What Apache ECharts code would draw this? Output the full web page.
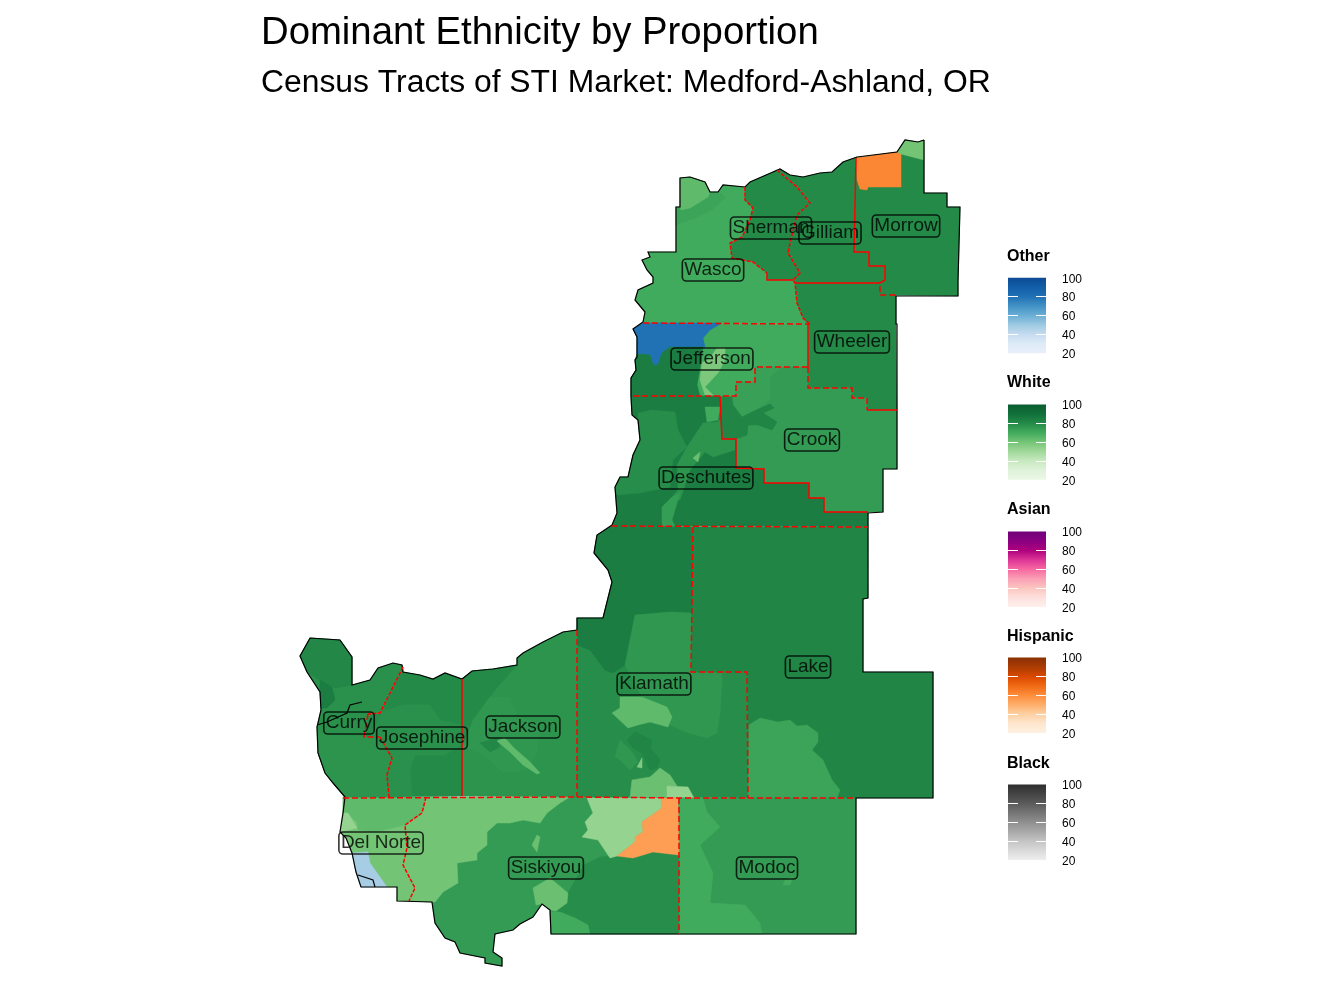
<!DOCTYPE html>
<html><head><meta charset="utf-8">
<style>html,body{margin:0;padding:0;background:#fff}#c{width:1344px;height:1008px}</style>
<script src="https://cdn.jsdelivr.net/npm/echarts@6/dist/echarts.min.js"></script>
</head><body><div id="c"></div>
<script>
const titleText = "Dominant Ethnicity by Proportion";
const subtitleText = "Census Tracts of STI Market: Medford-Ashland, OR";
const legendNames = ["Other","White","Asian","Hispanic","Black"];
const legendTicks = [20,40,60,80,100];

// Share of the dominant group per tract
const whiteShare = {
  Wasco:70, WascoN2:72, WascoN1:64, Sherman:80, Gilliam:80, Morrow:80, MorrowTop:60, Wheeler:80,
  Jefferson:70, JeffersonSW:85, JeffersonMid:58,
  Crook:75, CrookNW:73, CrookDark:82,
  Deschutes:85, DeschutesW:79, DeschutesC:77, DeschutesTop:70, DeschutesS:74, DeschutesSpot:62,
  Klamath:79, KlamathN:85, KlamathNE:76, KlamathLight:64, KlamathDark:82, KlamathW:76, KlamathS:62, KlamathSE:53, KlamathSpot:57,
  Lake:82, LakeS:72,
  Modoc:75, ModocW:70, ModocSpot:70,
  Siskiyou:75, SiskiyouNW:60, SiskiyouSE:79, SiskiyouSW:70, SiskiyouMid:62, SiskiyouSpot:62, SiskiyouNE:53,
  DelNorte:60, DelNorteN:64, DelNorteCoast:53,
  Jackson:77, JacksonW:80, JacksonC:76, JacksonDark:81, JacksonStreak:64,
  Josephine:80, JosephineN:78,
  Curry:78, CurryN:81, CurryDark:85, CurryS:77
};
const hispanicShare = { MorrowOrange:62, SiskiyouOrange:55 };
const otherShare = { JeffersonBlue:80, DelNorteBlue:48 };

// Tract outlines, in paint order
const tractShapes = {
  Wasco:[[745,187],[745,200],[753,208],[750,220],[742,237],[730,243],[732,258],[753,262],[767,273],[767,280],[793,280],[795,283],[797,303],[803,318],[810,324],[643,323],[633,329],[643,322],[645,312],[635,300],[638,290],[653,283],[653,277],[647,270],[642,260],[650,257],[648,252],[676,252],[676,207],[680,207],[680,178],[690,177],[705,182],[710,192],[718,192],[723,185]],
  WascoN2:[[681,210],[708,197],[710,192],[718,192],[726,197],[712,210],[695,218],[676,225],[676,207],[680,207]],
  WascoN1:[[680,178],[690,177],[705,182],[710,192],[708,197],[690,208],[681,210],[680,207]],
  Sherman:[[745,187],[750,182],[773,172],[777,170],[797,187],[810,203],[797,215],[790,243],[788,253],[800,273],[793,280],[767,280],[767,273],[753,262],[732,258],[730,243],[742,237],[750,220],[753,208],[745,200]],
  Gilliam:[[777,170],[780,169],[790,175],[803,177],[820,173],[832,172],[843,162],[857,157],[855,207],[854,252],[869,252],[869,266],[885,266],[885,280],[880,283],[795,283],[793,280],[800,273],[788,253],[790,243],[797,215],[810,203],[797,187]],
  Morrow:[[856,158],[857,157],[897,152],[905,140],[918,142],[924,140],[924,193],[947,193],[947,207],[960,207],[958,281],[958,296],[880,295],[880,283],[885,280],[885,266],[869,266],[869,252],[854,252],[855,207]],
  MorrowOrange:[[856,158],[857,157],[897,152],[901,154],[901,187],[868,187],[867,190],[860,189],[857,180]],
  MorrowTop:[[897,152],[905,140],[918,142],[924,140],[924,160],[901,154]],
  Wheeler:[[795,283],[880,283],[880,295],[896,295],[896,324],[897,324],[897,410],[867,410],[867,398],[852,398],[852,388],[808,388],[808,324],[803,318],[797,303]],
  Jefferson:[[643,323],[808,324],[808,367],[755,367],[755,382],[736,382],[736,396],[631,396],[631,378],[636,370],[635,360],[637,357],[637,337],[633,329]],
  JeffersonBlue:[[643,323],[722,323],[710,330],[703,338],[705,347],[670,347],[662,353],[658,365],[653,365],[650,355],[637,354],[637,337],[633,329]],
  JeffersonSW:[[637,354],[650,355],[653,365],[658,365],[662,353],[670,347],[703,347],[700,368],[697,385],[700,396],[631,396],[631,378],[636,370],[635,360]],
  JeffersonMid:[[717,348],[725,348],[725,360],[718,373],[705,387],[713,395],[705,395],[700,380],[702,363],[710,358]],
  Crook:[[755,367],[808,367],[808,388],[852,388],[852,398],[867,398],[867,410],[897,410],[897,469],[883,469],[883,512],[824,512],[824,498],[809,498],[809,483],[764,483],[764,469],[736,468],[736,439],[722,439],[720,396],[736,396],[736,382],[755,382]],
  CrookNW:[[736,382],[755,382],[755,367],[782,367],[770,377],[770,400],[752,412],[742,417],[733,405],[732,397],[736,396]],
  CrookDark:[[732,397],[733,405],[742,417],[752,412],[770,404],[774,408],[763,413],[777,422],[772,430],[758,425],[748,425],[747,435],[736,439],[722,439],[720,397]],
  Deschutes:[[631,396],[720,396],[722,439],[736,439],[736,468],[764,469],[764,483],[809,483],[809,498],[824,498],[824,512],[868,512],[868,527],[612,526],[617,513],[615,487],[620,477],[628,477],[633,455],[640,440],[638,420],[632,415]],
  DeschutesW:[[638,413],[652,410],[675,412],[678,430],[687,447],[673,460],[670,487],[640,493],[617,495],[615,487],[620,477],[628,477],[633,455],[640,440],[638,420]],
  DeschutesC:[[687,447],[703,423],[717,422],[720,420],[722,439],[735,440],[735,450],[713,457],[705,452],[690,470],[680,500],[672,497],[678,490],[677,465]],
  DeschutesTop:[[705,407],[720,407],[718,420],[707,422]],
  DeschutesS:[[662,507],[672,497],[680,493],[672,520],[675,526],[662,526]],
  DeschutesSpot:[[693,458],[700,452],[698,462]],
  Klamath:[[612,526],[693,527],[692,600],[691,672],[747,672],[748,798],[577,797],[577,618],[603,618],[612,582],[608,570],[594,553],[597,535]],
  KlamathN:[[612,526],[693,527],[692,613],[670,612],[635,615],[630,640],[625,665],[613,673],[605,670],[590,650],[577,645],[577,618],[603,618],[612,582],[608,570],[594,553],[597,535]],
  KlamathNE:[[635,615],[670,612],[692,613],[691,672],[722,672],[722,683],[720,713],[717,733],[707,738],[688,733],[670,725],[667,707],[642,697],[625,665],[630,640]],
  KlamathLight:[[620,697],[642,697],[667,707],[672,717],[668,727],[650,722],[638,725],[628,728],[612,713],[620,708]],
  KlamathW:[[615,757],[620,740],[627,747],[633,753],[638,762],[630,770],[620,760]],
  KlamathDark:[[627,740],[635,732],[652,740],[650,748],[660,760],[657,768],[650,770],[642,753],[633,748]],
  KlamathS:[[630,797],[632,780],[650,777],[660,768],[670,775],[677,786],[667,786],[667,797]],
  KlamathSE:[[667,786],[688,787],[694,798],[667,798]],
  KlamathSpot:[[637,767],[642,758],[642,768]],
  Lake:[[692,527],[868,527],[868,598],[863,599],[863,643],[863,672],[933,672],[933,798],[748,798],[747,672],[691,672],[692,600]],
  LakeS:[[749,725],[760,718],[778,722],[790,720],[797,726],[807,725],[818,733],[818,742],[812,750],[823,760],[832,780],[840,790],[837,798],[748,798]],
  Modoc:[[679,798],[856,798],[856,934],[679,934]],
  ModocW:[[679,798],[703,798],[707,812],[720,827],[700,845],[713,873],[710,903],[745,905],[760,923],[762,934],[679,934]],
  ModocSpot:[[785,880],[793,877],[790,885],[783,885]],
  Siskiyou:[[426,797],[577,797],[679,798],[679,934],[551,934],[550,910],[542,904],[533,917],[520,924],[513,930],[495,934],[493,952],[502,958],[502,966],[485,963],[485,958],[460,953],[455,942],[445,938],[435,923],[432,902],[409,901],[415,888],[403,865],[407,848],[405,825],[422,813]],
  SiskiyouNW:[[426,797],[570,797],[560,803],[547,813],[540,823],[523,820],[510,823],[497,823],[487,832],[487,845],[477,853],[477,860],[457,863],[458,883],[443,892],[435,902],[432,902],[409,901],[415,888],[403,865],[407,848],[405,825],[422,813]],
  SiskiyouSE:[[615,856],[633,858],[653,852],[679,855],[679,934],[590,934],[588,925],[575,918],[560,912],[556,911],[567,903],[568,893],[584,865],[600,857]],
  SiskiyouSW:[[551,934],[550,912],[560,912],[575,918],[588,925],[590,934]],
  SiskiyouMid:[[533,888],[550,878],[568,893],[567,903],[556,911],[550,910],[542,904],[536,905]],
  SiskiyouSpot:[[537,835],[540,837],[537,852],[532,845]],
  SiskiyouNE:[[587,798],[661,798],[662,808],[642,822],[643,832],[635,837],[635,842],[617,856],[610,858],[598,840],[582,837],[588,830],[585,822],[593,813]],
  SiskiyouOrange:[[661,798],[678,798],[679,855],[653,852],[633,858],[617,856],[635,842],[635,837],[643,832],[642,822],[662,808]],
  DelNorte:[[343,797],[426,797],[422,813],[405,825],[407,848],[403,865],[415,888],[409,901],[397,901],[397,887],[361,887],[356,872],[352,853],[346,838],[340,832],[343,813]],
  DelNorteN:[[343,797],[426,797],[422,813],[405,825],[375,832],[358,830],[357,822],[345,812],[343,813]],
  DelNorteCoast:[[344,813],[348,813],[357,828],[340,832]],
  DelNorteBlue:[[352,853],[368,852],[370,863],[387,887],[361,887],[356,872]],
  Jackson:[[462,679],[472,671],[493,669],[517,665],[517,658],[523,653],[543,642],[563,632],[577,630],[577,797],[462,796]],
  JacksonW:[[462,679],[472,671],[493,669],[517,665],[495,690],[490,697],[473,720],[463,747],[462,760]],
  JacksonC:[[473,720],[490,697],[510,697],[517,717],[540,723],[537,753],[527,770],[503,773],[490,760],[480,753],[463,747]],
  JacksonDark:[[480,743],[497,738],[500,747],[490,752]],
  JacksonStreak:[[497,741],[505,738],[514,748],[530,762],[540,773],[537,774],[523,765],[510,752]],
  Josephine:[[403,667],[403,672],[420,675],[433,679],[445,673],[462,679],[462,796],[389,797],[387,775],[392,758],[380,737],[364,737],[368,714],[380,713],[390,693]],
  JosephineN:[[382,712],[403,705],[430,705],[440,720],[462,725],[462,745],[445,755],[415,755],[410,770],[412,796],[389,797],[387,775],[392,758],[380,737],[370,737]],
  Curry:[[403,667],[402,665],[393,663],[378,668],[370,680],[352,685],[352,657],[340,640],[310,638],[300,656],[307,672],[320,692],[321,710],[317,727],[318,753],[325,773],[333,783],[345,797],[389,797],[387,775],[392,758],[380,737],[364,737],[368,714],[380,713],[390,693]],
  CurryN:[[300,656],[310,638],[340,640],[352,657],[352,685],[335,688],[320,680],[307,672]],
  CurryDark:[[320,680],[332,687],[335,700],[327,708],[321,708],[320,692]],
  CurryS:[[318,733],[365,737],[380,737],[392,758],[387,775],[389,797],[345,797],[333,783],[325,773],[318,753]]
};

const outerBorder = [[924,140],[918,142],[905,140],[897,152],[857,157],[843,162],[832,172],[820,173],[803,177],[790,175],[780,169],[773,172],[750,182],[745,187],[723,185],[718,192],[710,192],[705,182],[690,177],[680,178],[680,207],[676,207],[676,252],[648,252],[650,257],[642,260],[647,270],[653,277],[653,283],[638,290],[635,300],[645,312],[643,322],[633,329],[637,337],[637,357],[635,360],[636,370],[631,378],[631,397],[632,415],[638,420],[640,440],[633,455],[628,477],[620,477],[615,487],[617,513],[612,525],[597,535],[594,553],[608,570],[612,582],[603,618],[577,618],[577,630],[563,632],[543,642],[523,653],[517,658],[517,665],[493,669],[472,671],[462,679],[445,673],[433,679],[420,675],[403,672],[402,665],[393,663],[378,668],[370,680],[352,685],[352,657],[340,640],[310,638],[300,656],[307,672],[320,692],[321,710],[317,727],[318,753],[325,773],[333,783],[345,797],[343,813],[340,832],[346,838],[352,853],[356,872],[361,887],[397,887],[397,901],[432,902],[435,923],[445,938],[455,942],[460,953],[485,958],[485,963],[502,966],[502,958],[493,952],[495,934],[513,930],[520,924],[533,917],[542,904],[550,910],[551,934],[856,934],[856,798],[933,798],[933,672],[863,672],[863,599],[868,598],[868,513],[883,512],[883,469],[897,469],[897,324],[896,324],[896,296],[958,296],[958,281],[960,207],[947,207],[947,193],[924,193],[924,140]];
const innerBlack = [
  [[317,725],[327,722],[347,713],[350,705],[362,702]],
  [[358,875],[373,880],[375,887]]
];
const solidRed = [
  [[767,273],[767,280],[793,280]],
  [[856,158],[855,207],[854,252],[869,252],[869,266],[885,266],[885,280]],
  [[795,283],[880,283]],
  [[808,324],[808,367]],
  [[867,410],[897,410]],
  [[720,396],[722,439],[736,439],[736,468],[764,469],[764,483],[809,483],[809,498],[824,498],[824,512],[868,512]],
  [[462,679],[462,796]]
];
const dottedRed = [
  [[745,187],[745,200],[753,208],[750,220],[742,237],[730,243],[732,258],[753,262],[767,273]],
  [[777,170],[797,187],[810,203],[797,215],[790,243],[788,253],[800,273],[793,280],[795,283],[797,303],[803,318],[810,324]],
  [[403,667],[390,693],[380,713],[368,714]],
  [[380,737],[392,758],[387,775],[389,797]],
  [[426,797],[422,813],[405,825],[407,848],[403,865],[415,888],[409,901]]
];
const dashedRed = [
  [[643,323],[810,324]],
  [[808,367],[755,367],[755,382],[736,382],[736,396],[631,396]],
  [[808,367],[808,388],[852,388],[852,398],[867,398],[867,410]],
  [[885,280],[880,283],[880,295],[896,295]],
  [[612,526],[868,527]],
  [[693,527],[692,600],[691,672],[747,672],[748,798]],
  [[577,630],[577,797]],
  [[343,798],[577,797],[678,798],[856,798]],
  [[679,798],[679,934]],
  [[368,714],[364,737],[380,737]]
];
const countyNames = ["Sherman","Gilliam","Morrow","Wasco","Jefferson","Wheeler","Crook","Deschutes","Lake","Klamath","Curry","Josephine","Jackson","Del Norte","Siskiyou","Modoc"];
const countyX = [771,830,906,713,712,852,812,706,808,654,349,422,523,381,546,767];
const countyY = [228,233,226,270,359,342,440,478,667,684,723,738,727,843,868,868];

// Colour ramps (values 20, 30 ... 100)
const ramps = {
  Other:["#e8eff9","#deebf7","#c6dbef","#9ecae1","#6baed6","#4292c6","#2171b5","#125ea8","#0d4a94"],
  White:["#eaf7e6","#dff2da","#c7e9c0","#a1d99b","#74c476","#41ab5d","#248a48","#11703a","#0a5c2f"],
  Asian:["#fff0ec","#fde0dd","#fcc5c0","#fa9fb5","#f768a1","#dd3497","#ae017e","#8a0180","#6f0078"],
  Hispanic:["#fff0e2","#fee6ce","#fdd0a2","#fdae6b","#fd8d3c","#f16913","#d94801","#ab3c04","#8a3003"],
  Black:["#eeeeee","#d9d9d9","#c4c4c4","#a8a8a8","#8f8f8f","#757575","#5b5b5b","#444444","#2e2e2e"]
};
const legendTops = [277.8,404.4,531.5,657.5,784.5];
const legendTitleTops = [248.5,374.5,501.5,628.5,755.5];

function rampColor(name, v){
  const r = ramps[name], p = Math.max(0, Math.min(8, (v-20)/10)), i = Math.min(7, Math.floor(p)), t = p-i;
  const h = s => [1,3,5].map(k => parseInt(s.substr(k,2),16));
  const a = h(r[i]), b = h(r[i+1]);
  return 'rgb(' + a.map((c,k) => Math.round(c+(b[k]-c)*t)).join(',') + ')';
}
const shareOf = {White:whiteShare, Hispanic:hispanicShare, Other:otherShare};
const nameOrder = Object.keys(tractShapes);
const features = nameOrder.map(n => ({type:'Feature',properties:{name:n},geometry:{type:'Polygon',coordinates:[tractShapes[n]]}}));
echarts.registerMap('tracts',{type:'FeatureCollection',features});

const regionData = nameOrder.map(n => {
  const group = Object.keys(shareOf).find(g => n in shareOf[g]);
  const col = rampColor(group, shareOf[group][n]);
  return {name:n, value:shareOf[group][n], itemStyle:{areaColor:col,borderColor:col,borderWidth:0.5}};
});
const identity = {project:p=>p, unproject:p=>p};
const frame = [[0,0],[1344,1008]];

const titles = [
  {text:titleText,left:261,top:14,padding:0,textStyle:{fontFamily:'Liberation Sans',fontWeight:'normal',fontSize:38.3,color:'#000'}},
  {text:subtitleText,left:261,top:67,padding:0,textStyle:{fontFamily:'Liberation Sans',fontWeight:'normal',fontSize:31.85,color:'#000'}}
];
const grids=[], xAxes=[], yAxes=[], series=[];
legendNames.forEach((name,i)=>{
  titles.push({text:name,left:1007,top:legendTitleTops[i],padding:0,textStyle:{fontFamily:'Liberation Sans',fontWeight:'bold',fontSize:16,color:'#000'}});
  grids.push({left:1008,top:legendTops[i],width:38,height:75.4,containLabel:false});
  xAxes.push({gridIndex:i,type:'category',data:[name],show:false});
  const tick = {show:true,inside:true,length:10,customValues:[40,60,80],lineStyle:{color:'#fff',width:1}};
  yAxes.push({gridIndex:i,type:'value',position:'right',min:20,max:100,interval:20,z:5,
    axisLine:{show:false},splitLine:{show:false},axisTick:tick,
    axisLabel:{show:true,margin:16,fontSize:12,color:'#000',fontFamily:'Liberation Sans',customValues:legendTicks,verticalAlign:'top',lineHeight:3}});
  yAxes.push({gridIndex:i,type:'value',position:'left',min:20,max:100,interval:20,z:5,
    axisLine:{show:false},splitLine:{show:false},axisTick:tick,axisLabel:{show:false}});
  const stops = ramps[name].map((c,k)=>({offset:1-k/8,color:c}));
  series.push({type:'bar',xAxisIndex:i,yAxisIndex:i*2,data:[100],barWidth:'100%',silent:true,
    itemStyle:{color:{type:'linear',x:0,y:0,x2:0,y2:1,colorStops:stops.reverse()}}});
});

series.push({type:'map',map:'tracts',projection:identity,boundingCoords:frame,left:0,top:0,width:1344,height:1008,
  roam:false,silent:true,z:2,label:{show:false},data:regionData,selectedMode:false});
series.push({type:'lines',coordinateSystem:'geo',geoIndex:0,polyline:true,silent:true,z:4,
  lineStyle:{color:'#000',width:1.2,opacity:1},data:[outerBorder].concat(innerBlack).map(c=>({coords:c}))});
series.push({type:'lines',coordinateSystem:'geo',geoIndex:0,polyline:true,silent:true,z:5,
  lineStyle:{color:'#f00',width:1.5,opacity:1},data:solidRed.map(c=>({coords:c}))});
series.push({type:'lines',coordinateSystem:'geo',geoIndex:0,polyline:true,silent:true,z:5,
  lineStyle:{color:'#f00',width:1.5,opacity:1,type:[4,1.5]},data:dottedRed.map(c=>({coords:c}))});
series.push({type:'lines',coordinateSystem:'geo',geoIndex:0,polyline:true,silent:true,z:5,
  lineStyle:{color:'#f00',width:1.5,opacity:1,type:[6,3]},data:dashedRed.map(c=>({coords:c}))});
series.push({type:'scatter',coordinateSystem:'geo',geoIndex:0,symbolSize:0,silent:true,z:6,
  data:countyNames.map((n,i)=>({name:n,value:[countyX[i],countyY[i]]})),
  labelLayout:{hideOverlap:false},
  label:{show:true,position:'inside',formatter:'{b}',fontFamily:'Liberation Sans',fontSize:19,color:'#000',
    borderColor:'#000',borderWidth:0.8,borderRadius:4,padding:[3,2,0,2],backgroundColor:'transparent'}});

const chart = echarts.init(document.getElementById('c'),null,{renderer:'canvas',width:1344,height:1008});
chart.setOption({
  animation:false,backgroundColor:'#fff',
  title:titles,
  grid:grids,xAxis:xAxes,yAxis:yAxes,
  geo:{map:'tracts',projection:identity,boundingCoords:frame,left:0,top:0,width:1344,height:1008,roam:false,silent:true,
    itemStyle:{areaColor:'transparent',borderWidth:0},label:{show:false},z:0},
  series
});
</script></body></html>
